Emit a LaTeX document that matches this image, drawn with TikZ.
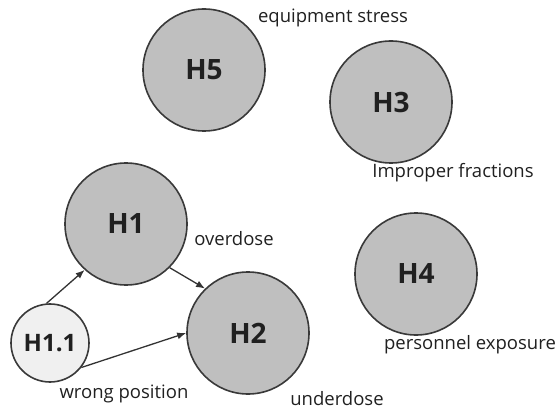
\documentclass[tikz,border=0pt]{standalone}
\usepackage{fontspec}
\setmainfont{Open Sans}
\usepackage{tikz}
\usetikzlibrary{arrows.meta}

\begin{document}
\begin{tikzpicture}[x=1pt,y=-1pt,
  hypo/.style={circle,draw=gray!45!black,line width=1.6pt,fill=gray!50,inner sep=0pt,
    minimum size=122pt,font=\fontsize{28}{28}\selectfont\bfseries,text=gray!25!black},
  cue/.style={font=\fontsize{18.5}{18.5}\selectfont,text=gray!25!black,inner sep=0pt},
  link/.style={-{Latex[length=9pt,width=7pt]},line width=1.3pt,draw=gray!40!black}]
  % pixel grid of the reference: 558 x 412, y downwards
  \useasboundingbox (0,0) rectangle (558,412);
  % hazard circles
  \node[hypo] (h5) at (204,70) {H5};
  \node[hypo] (h3) at (391,102) {H3};
  \node[hypo] (h1) at (126,224) {H1};
  \node[hypo] (h4) at (416,274) {H4};
  \node[hypo] (h2) at (248,333) {H2};
  \node[hypo,fill=gray!12,minimum size=78pt,font=\fontsize{24}{24}\selectfont\bfseries] (h11) at (50,343) {H1.1};
  % what each one stands for
  \node[cue] (t5) at (333,18) {equipment stress};
  \node[cue] (t3) at (453,173) {Improper fractions};
  \node[cue] (t1) at (234,239) {overdose};
  \node[cue] (t4) at (470,345) {personnel exposure};
  \node[cue] (t2) at (337,399) {underdose};
  \node[cue] (t11) at (124,394) {wrong position};
  % causes
  \draw[link] (h11.95) -- (h1.228);
  \draw[link] (h11.-38) -- (h2.180);
  \draw[link] (h1.-45) -- (h2.134);
\end{tikzpicture}
\end{document}
